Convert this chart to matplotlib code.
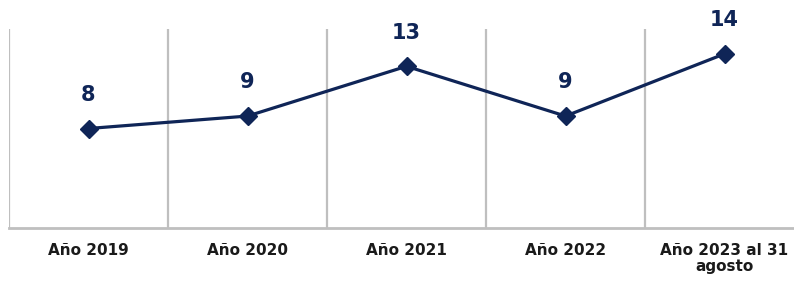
import matplotlib
matplotlib.use("Agg")
import matplotlib.pyplot as plt

categories = ["Año 2019", "Año 2020", "Año 2021", "Año 2022", "Año 2023 al 31\nagosto"]
values = [8, 9, 13, 9, 14]

navy = "#0f2557"
grid = "#bfbfbf"

fig = plt.figure(figsize=(7.94, 2.81), dpi=100)
W, H = 794, 281
left, right, top, bottom = 9, 804, 29, 228
ax = fig.add_axes([left / W, 1 - bottom / H, (right - left) / W, (bottom - top) / H])

x = list(range(len(categories)))
ax.plot(x, values, color=navy, lw=2.3, marker="D", markersize=9, zorder=3)
for xi, v in zip(x, values):
    ax.annotate(str(v), (xi, v), xytext=(0, 17), textcoords="offset points",
                ha="center", va="bottom", fontsize=15, fontweight="bold", color=navy)

ax.set_xlim(-0.5, len(categories) - 0.5)
ax.set_ylim(0, 16)
for b in range(len(categories)):
    ax.axvline(b - 0.5, color=grid, lw=1.6, zorder=1)
for s in ["top", "right", "left"]:
    ax.spines[s].set_visible(False)
ax.spines["bottom"].set_color(grid)
ax.spines["bottom"].set_linewidth(2)
ax.set_yticks([])
ax.set_xticks(x)
ax.set_xticklabels(categories, fontsize=11, fontweight="bold", color="#1a1a1a", linespacing=1.05)
ax.tick_params(axis="x", length=0, pad=11)

fig.savefig("out.png", dpi=100)
